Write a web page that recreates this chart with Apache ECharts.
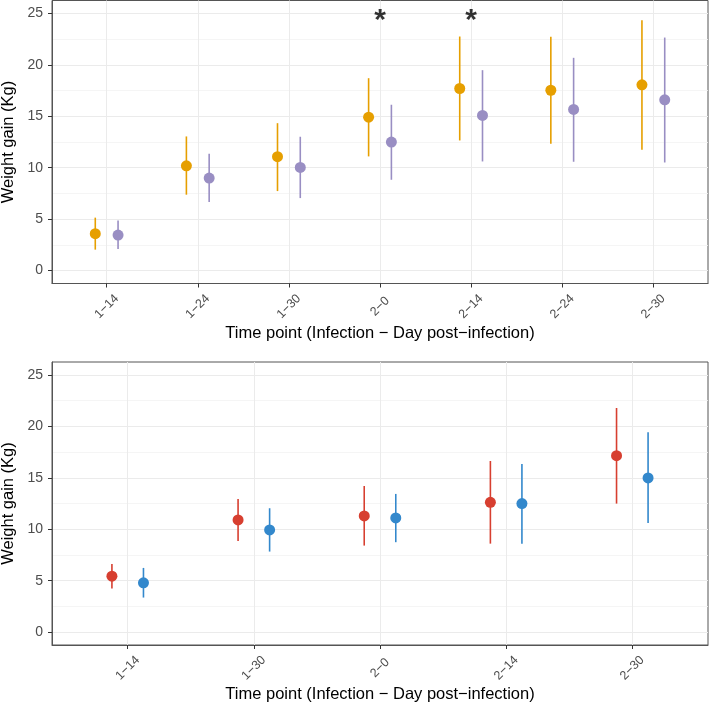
<!DOCTYPE html>
<html><head><meta charset="utf-8">
<script src="https://cdn.jsdelivr.net/npm/echarts@6/dist/echarts.min.js"></script>
<style>html,body{margin:0;padding:0;background:#fff}#c{width:709px;height:706px}</style>
</head><body><div id="c"></div>
<script>
const topCats = ['1−14','1−24','1−30','2−0','2−14','2−24','2−30'];
const topAMean = [3.59,10.19,11.07,14.91,17.70,17.53,18.06];
const topALow  = [2.04,7.38,7.73,11.10,12.65,12.33,11.75];
const topAHigh = [5.15,13.04,14.33,18.70,22.75,22.72,24.33];
const topBMean = [3.46,8.99,10.03,12.49,15.08,15.66,16.60];
const topBLow  = [2.10,6.66,7.05,8.83,10.61,10.58,10.51];
const topBHigh = [4.88,11.36,13.01,16.12,19.48,20.68,22.65];
const sigCats = ['2−0','2−14'];
const sigY = 24.3;
const botCats = ['1−14','1−30','2−0','2−14','2−30'];
const botAMean = [5.44,10.90,11.29,12.62,17.15];
const botALow  = [4.23,8.86,8.41,8.60,12.49];
const botAHigh = [6.63,12.94,14.20,16.63,21.78];
const botBMean = [4.79,9.93,11.10,12.49,14.98];
const botBLow  = [3.36,7.83,8.74,8.60,10.61];
const botBHigh = [6.24,12.04,13.43,16.34,19.42];
const yTicks = [0,5,10,15,20,25];
const yMinor = [2.5,7.5,12.5,17.5,22.5];

const FONT = 'Liberation Sans, Arial, sans-serif';
const DODGE = 0.125;
const colA1 = '#E69F00', colB1 = '#998EC3', colA2 = '#D73F30', colB2 = '#3388CC';

function errRender(params, api){
  const x = api.value(0), lo = api.value(1), hi = api.value(2);
  const p1 = api.coord([x, lo]), p2 = api.coord([x, hi]);
  return {type:'line', shape:{x1:p1[0],y1:p1[1],x2:p2[0],y2:p2[1]},
          style:{stroke: api.visual('color'), lineWidth:1.6}};
}
function idx(n){ return Array.from({length:n}, (_, i) => i); }

function xAxisFor(cats, gi){
  const vals = idx(cats.length);
  return {
    type:'value', gridIndex:gi, min:-0.6, max:cats.length-0.4, position:'bottom',
    name:'Time point (Infection − Day post−infection)', nameLocation:'middle', nameGap:41,
    nameTextStyle:{fontSize:16.5, color:'#000', fontFamily:FONT},
    axisLine:{show:true, onZero:false, lineStyle:{color:'#555', width:1}},
    axisTick:{show:true, length:4, lineStyle:{color:'#333'}, customValues:vals},
    axisLabel:{customValues:vals, rotate:45, margin:23, align:'center', verticalAlign:'middle',
      fontSize:12.5, color:'#4d4d4d', fontFamily:FONT,
      formatter:v => cats[Math.round(v)] || ''},
    splitLine:{show:true, lineStyle:{color:'#ebebeb', width:1}}
  };
}
function yMajor(gi){
  return {
    type:'value', gridIndex:gi, min:-1.25, max:26.25, position:'left',
    name:'Weight gain (Kg)', nameLocation:'middle', nameGap:32, nameRotate:90,
    nameTextStyle:{fontSize:16.5, color:'#000', fontFamily:FONT},
    axisLine:{show:true, onZero:false, lineStyle:{color:'#555', width:1}},
    axisTick:{show:true, length:4, lineStyle:{color:'#333'}, customValues:yTicks},
    axisLabel:{customValues:yTicks, margin:9, fontSize:14, color:'#4d4d4d', fontFamily:FONT},
    splitLine:{show:true, lineStyle:{color:'#ebebeb', width:1}}
  };
}
function yMinorAx(gi){
  return {
    type:'value', gridIndex:gi, min:-1.25, max:26.25, position:'left',
    axisLine:{show:false, onZero:false},
    axisTick:{show:false, customValues:yMinor},
    axisLabel:{show:false, customValues:yMinor},
    splitLine:{show:true, lineStyle:{color:'#f2f2f2', width:0.8}}
  };
}

function panelSeries(xi, yi, mA, lA, hA, mB, lB, hB, cA, cB){
  const n = mA.length;
  const ii = idx(n);
  return [
    {type:'custom', xAxisIndex:xi, yAxisIndex:yi, renderItem:errRender, itemStyle:{color:cA},
     data: ii.map(i => [i-DODGE, lA[i], hA[i]]), encode:{x:0, y:[1,2]}, z:2, silent:true},
    {type:'custom', xAxisIndex:xi, yAxisIndex:yi, renderItem:errRender, itemStyle:{color:cB},
     data: ii.map(i => [i+DODGE, lB[i], hB[i]]), encode:{x:0, y:[1,2]}, z:2, silent:true},
    {type:'scatter', xAxisIndex:xi, yAxisIndex:yi, symbol:'circle', symbolSize:11,
     itemStyle:{color:cA, opacity:1}, data: ii.map(i => [i-DODGE, mA[i]]), z:3, silent:true},
    {type:'scatter', xAxisIndex:xi, yAxisIndex:yi, symbol:'circle', symbolSize:11,
     itemStyle:{color:cB, opacity:1}, data: ii.map(i => [i+DODGE, mB[i]]), z:3, silent:true}
  ];
}

const series = [].concat(
  panelSeries(0, 0, topAMean, topALow, topAHigh, topBMean, topBLow, topBHigh, colA1, colB1),
  panelSeries(1, 2, botAMean, botALow, botAHigh, botBMean, botBLow, botBHigh, colA2, colB2),
  [{type:'scatter', xAxisIndex:0, yAxisIndex:0, symbol:'circle', symbolSize:1,
    itemStyle:{color:'rgba(0,0,0,0)'}, silent:true, z:4,
    data: sigCats.map(c => [topCats.indexOf(c), sigY]),
    label:{show:true, position:'inside', formatter:'*', fontSize:30, fontWeight:'bold', color:'#000', fontFamily:FONT}}]
);

const chart = echarts.init(document.getElementById('c'), null, {renderer:'canvas'});
chart.setOption({
  animation:false,
  backgroundColor:'#fff',
  grid:[
    {left:52, top:0.5, width:656, height:283, show:true, borderColor:'#555', borderWidth:1, containLabel:false, outerBoundsMode:'none'},
    {left:52, top:362, width:656, height:283, show:true, borderColor:'#555', borderWidth:1, containLabel:false, outerBoundsMode:'none'}
  ],
  xAxis:[xAxisFor(topCats, 0), xAxisFor(botCats, 1)],
  yAxis:[yMajor(0), yMinorAx(0), yMajor(1), yMinorAx(1)],
  series: series
});
</script></body></html>
